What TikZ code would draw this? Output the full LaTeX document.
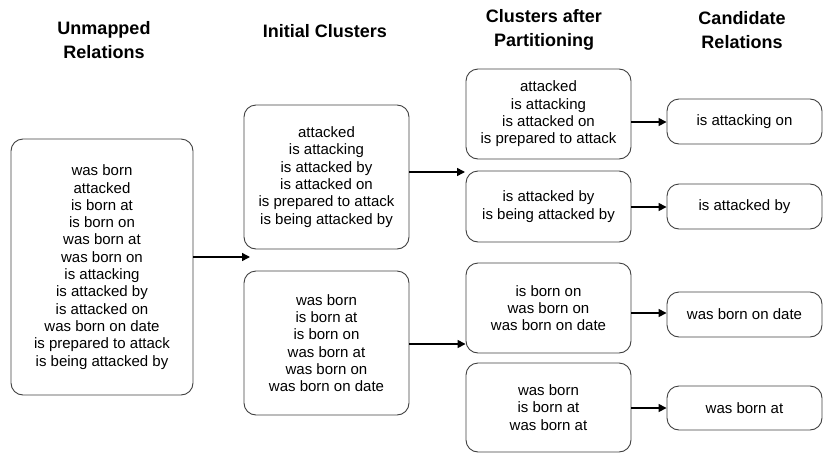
\documentclass[tikz,border=0pt]{standalone}
\usepackage{fontspec}
\setmainfont{Liberation Sans}
\usetikzlibrary{arrows.meta}
\begin{document}
\begin{tikzpicture}[x=1pt,y=1pt,
  box/.style={draw=black!75, line width=0.9pt, rounded corners=12pt, align=center,
    font=\fontsize{15}{17.3}\selectfont, inner sep=0pt},
  head/.style={align=center, font=\bfseries\fontsize{18}{23.5}\selectfont, inner sep=0pt},
  conn/.style={line width=1.5pt, -{Triangle[length=8pt,width=8pt]}}]
\useasboundingbox (0,0) rectangle (823,-453);
% headers
\node[head] (h1) at (104,-40) {Unmapped\\Relations};
\node[head] (h2) at (325,-31) {Initial Clusters};
\node[head] (h3) at (544,-30) {Clusters after\\Partitioning};
\node[head] (h4) at (742,-30) {Candidate\\Relations};
% column 1
\node[box, minimum width=182pt, minimum height=256pt] (A) at (102,-267)
  {was born\\attacked\\is born at\\is born on\\was born at\\was born on\\is attacking\\is attacked by\\is attacked on\\was born on date\\is prepared to attack\\is being attacked by};
% column 2
\node[box, minimum width=165pt, minimum height=144pt] (B1) at (326.5,-177)
  {attacked\\is attacking\\is attacked by\\is attacked on\\is prepared to attack\\is being attacked by};
\node[box, minimum width=165pt, minimum height=144pt] (B2) at (326.5,-343)
  {was born\\is born at\\is born on\\was born at\\was born on\\was born on date};
% column 3
\node[box, minimum width=165pt, minimum height=90pt] (C1) at (548.5,-114)
  {attacked\\is attacking\\is attacked on\\is prepared to attack};
\node[box, minimum width=165pt, minimum height=71pt] (C2) at (548.5,-206.5)
  {is attacked by\\is being attacked by};
\node[box, minimum width=165pt, minimum height=90pt] (C3) at (548.5,-308)
  {is born on\\was born on\\was born on date};
\node[box, minimum width=165pt, minimum height=89pt] (C4) at (548.5,-407.5)
  {was born\\is born at\\was born at};
% column 4
\node[box, minimum width=155pt, minimum height=45pt] (D1) at (744.5,-121.5) {is attacking on};
\node[box, minimum width=155pt, minimum height=45pt] (D2) at (744.5,-206.5) {is attacked by};
\node[box, minimum width=155pt, minimum height=45pt] (D3) at (744.5,-314.5) {was born on date};
\node[box, minimum width=155pt, minimum height=44pt] (D4) at (744.5,-408) {was born at};
% free ends
\coordinate (aIn) at (250,-257);
\coordinate (bIn) at (465,-172);
% connectors
\draw[conn] (A.east |- aIn) -- (aIn);
\draw[conn] (B1.east |- bIn) -- (bIn);
\draw[conn] (B2.east |- 0,-344) -- (C3.west |- 0,-344);
\draw[conn] (C1.east |- 0,-122) -- (D1.west |- 0,-122);
\draw[conn] (C2.east |- 0,-207) -- (D2.west |- 0,-207);
\draw[conn] (C3.east |- 0,-313) -- (D3.west |- 0,-313);
\draw[conn] (C4.east |- 0,-408) -- (D4.west |- 0,-408);
\end{tikzpicture}
\end{document}
